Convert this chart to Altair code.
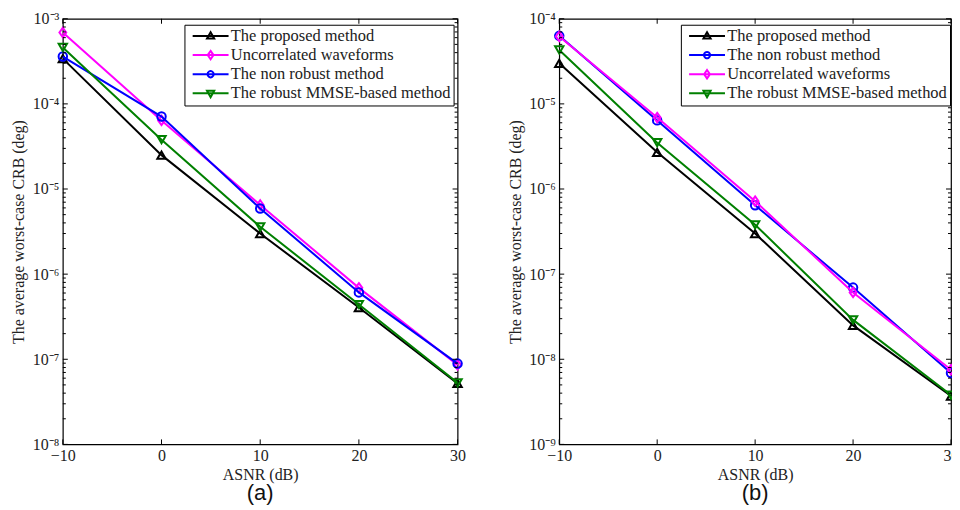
import altair as alt
import pandas as pd

# ---------------- data ----------------
snr = [-10, 0, 10, 20, 30]

# panel (a)
a_proposed = [3.4e-4, 2.5e-5, 3.0e-6, 4.05e-7, 5.2e-8]
a_uncorrelated = [6.9e-4, 6.4e-5, 6.5e-6, 6.9e-7, 8.6e-8]
a_nonrobust = [3.6e-4, 7.1e-5, 5.9e-6, 6.1e-7, 8.9e-8]
a_mmse = [4.6e-4, 3.8e-5, 3.6e-6, 4.4e-7, 5.3e-8]

# panel (b)
b_proposed = [3.0e-5, 2.7e-6, 3.0e-7, 2.5e-8, 3.7e-9]
b_nonrobust = [6.3e-5, 6.4e-6, 6.45e-7, 6.95e-8, 6.9e-9]
b_uncorrelated = [6.2e-5, 6.9e-6, 7.2e-7, 6.1e-8, 7.55e-9]
b_mmse = [4.3e-5, 3.5e-6, 3.8e-7, 2.9e-8, 3.8e-9]

names = {
    "proposed": "The proposed method",
    "uncorrelated": "Uncorrelated waveforms",
    "nonrobust": "The non robust method",
    "mmse": "The robust MMSE-based method",
}
colors = {"proposed": "#000000", "uncorrelated": "#ff00ff",
          "nonrobust": "#0000ff", "mmse": "#008000"}

x_ticks = [-10, 0, 10, 20, 30]
a_exponents = [-8, -7, -6, -5, -4, -3]
b_exponents = [-9, -8, -7, -6, -5, -4]
minor_mult = [2, 3, 4, 5, 6, 7, 8, 9]

H = 427
SERIF = "Liberation Serif"
TXT = "#222222"

# point marker shapes
pt_shape = {
    "proposed": "triangle-up",
    "uncorrelated": "M0,-1L0.72,0L0,1L-0.72,0Z",
    "nonrobust": "circle",
    "mmse": "triangle-down",
}
pt_size = {"proposed": 70, "uncorrelated": 90, "nonrobust": 72, "mmse": 70}

# legend symbol: path units, 1 unit = 7 px, symbol centre 8 px from entry origin
U = 7.0


def legend_path(key):
    def p(px):
        return round(px / U, 4)
    cx = 15.0  # marker centre, px relative to symbol centre
    base = f"M{p(-8)},0M{p(-3)},0H{p(33)}"
    if key == "proposed":
        m = f"M{p(cx)},{p(-3.8)}L{p(cx+3.6)},{p(2.6)}L{p(cx-3.6)},{p(2.6)}Z"
    elif key == "mmse":
        m = f"M{p(cx)},{p(3.8)}L{p(cx+3.6)},{p(-2.6)}L{p(cx-3.6)},{p(-2.6)}Z"
    elif key == "nonrobust":
        r = p(3.1)
        m = f"M{p(cx+3.1)},0A{r},{r} 0 1,1 {p(cx-3.1)},0A{r},{r} 0 1,1 {p(cx+3.1)},0"
    else:
        m = f"M{p(cx)},{p(-4.2)}L{p(cx+2.9)},0L{p(cx)},{p(4.2)}L{p(cx-2.9)},0Z"
    return base + m


sup = "['⁰','¹','²','³','⁴','⁵','⁶','⁷','⁸','⁹']"
ylabel_expr = ("'10' + (datum.value < 1 ? '⁻' : '') + " + sup +
               "[abs(round(log(datum.value)/LN10))]")


def panel(order, series, exps, label, W, legend_x):
    ymin, ymax = 10.0 ** exps[0], 10.0 ** exps[-1]
    rows = []
    for k in order:
        for s, v in zip(snr, series[k]):
            rows.append({"snr": s, "v": v, "series": names[k]})
    df = pd.DataFrame(rows)

    xs = alt.Scale(domain=[-10, 30], nice=False, zero=False)
    ys = alt.Scale(type="log", domain=[ymin, ymax], nice=False)
    x_axis = alt.Axis(
        values=x_ticks, title="ASNR (dB)", ticks=False, domain=False, grid=False,
        labelFont=SERIF, labelFontSize=16, labelColor=TXT, labelPadding=3,
        labelFlush=False, labelOverlap=False,
        titleFont=SERIF, titleFontSize=16, titleFontWeight="normal",
        titleColor=TXT, titlePadding=3)
    y_axis = alt.Axis(
        values=[10.0 ** e for e in exps], title="The average worst-case CRB (deg)",
        ticks=False, domain=False, grid=False, labelExpr=ylabel_expr,
        labelFont=SERIF, labelFontSize=16, labelColor=TXT, labelPadding=4,
        labelFlush=False, labelOverlap=False, minExtent=32, maxExtent=32,
        titleFont=SERIF, titleFontSize=16, titleFontWeight="normal",
        titleColor=TXT, titlePadding=4)
    X = alt.X("snr:Q", scale=xs, axis=x_axis)
    Y = alt.Y("v:Q", scale=ys, axis=y_axis)

    base = alt.Chart(df)
    layers = []
    for k in order:
        sub = base.transform_filter(alt.datum.series == names[k])
        layers.append(sub.mark_line(color=colors[k], strokeWidth=2).encode(x=X, y=Y))
        layers.append(sub.mark_point(color=colors[k], shape=pt_shape[k], size=pt_size[k],
                                     filled=False, strokeWidth=2, opacity=1).encode(x=X, y=Y))

    dom = [names[k] for k in order]
    lg = dict(title=None, orient="none", legendX=legend_x, legendY=6, padding=3,
              strokeColor="black", fillColor="white", cornerRadius=0,
              symbolSize=196, symbolStrokeWidth=2,
              labelFont=SERIF, labelFontSize=16.5, labelColor=TXT,
              labelOffset=27, labelLimit=400, rowPadding=2.2,
              labelExpr="datum.label + '\u2004'")
    leg = base.transform_filter("false").mark_point(filled=False, strokeWidth=2, opacity=1).encode(
        x=X, y=Y,
        color=alt.Color("series:N", scale=alt.Scale(domain=dom, range=[colors[k] for k in order]),
                        legend=alt.Legend(**lg)),
        shape=alt.Shape("series:N", scale=alt.Scale(domain=dom, range=[legend_path(k) for k in order]),
                        legend=alt.Legend(**lg)),
    )
    layers.append(leg)

    # inward ticks on all four sides
    major = pd.DataFrame({"t": [10.0 ** e for e in exps]})
    minor = pd.DataFrame({"t": [m * 10.0 ** e for e in exps[:-1] for m in minor_mult]})
    xt = pd.DataFrame({"t": x_ticks})
    Yt = alt.Y("t:Q", scale=ys, axis=y_axis)
    Xt = alt.X("t:Q", scale=xs, axis=x_axis)
    rule = dict(color="black", strokeWidth=1)
    layers += [
        alt.Chart(major).mark_rule(**rule).encode(y=Yt, x=alt.value(0), x2=alt.value(5)),
        alt.Chart(minor).mark_rule(**rule).encode(y=Yt, x=alt.value(0), x2=alt.value(3)),
        alt.Chart(major).mark_rule(**rule).encode(y=Yt, x=alt.value(W - 5), x2=alt.value(W)),
        alt.Chart(minor).mark_rule(**rule).encode(y=Yt, x=alt.value(W - 3), x2=alt.value(W)),
        alt.Chart(xt).mark_rule(**rule).encode(x=Xt, y=alt.value(0), y2=alt.value(5)),
        alt.Chart(xt).mark_rule(**rule).encode(x=Xt, y=alt.value(H - 5), y2=alt.value(H)),
    ]
    return alt.layer(*layers).properties(
        width=W, height=H,
        title=alt.TitleParams(label, orient="bottom", font="Liberation Sans", fontSize=22,
                              fontWeight="normal", color="#111111", offset=1, anchor="middle"),
    )


pa = panel(["proposed", "uncorrelated", "nonrobust", "mmse"],
           {"proposed": a_proposed, "uncorrelated": a_uncorrelated,
            "nonrobust": a_nonrobust, "mmse": a_mmse}, a_exponents, "(a)", 396, 122)
pb = panel(["proposed", "nonrobust", "uncorrelated", "mmse"],
           {"proposed": b_proposed, "uncorrelated": b_uncorrelated,
            "nonrobust": b_nonrobust, "mmse": b_mmse}, b_exponents, "(b)", 393, 122)

chart = alt.hconcat(pa, pb, spacing=40).resolve_scale(
    x="independent", y="independent", color="independent", shape="independent"
).resolve_legend(color="independent", shape="independent").properties(
    padding={"left": 2, "top": 1, "right": -8, "bottom": -1},
    background="white",
).configure_view(stroke="black", strokeWidth=1.2)

chart.save("out.html", embed_options={"renderer": "svg", "actions": False})
